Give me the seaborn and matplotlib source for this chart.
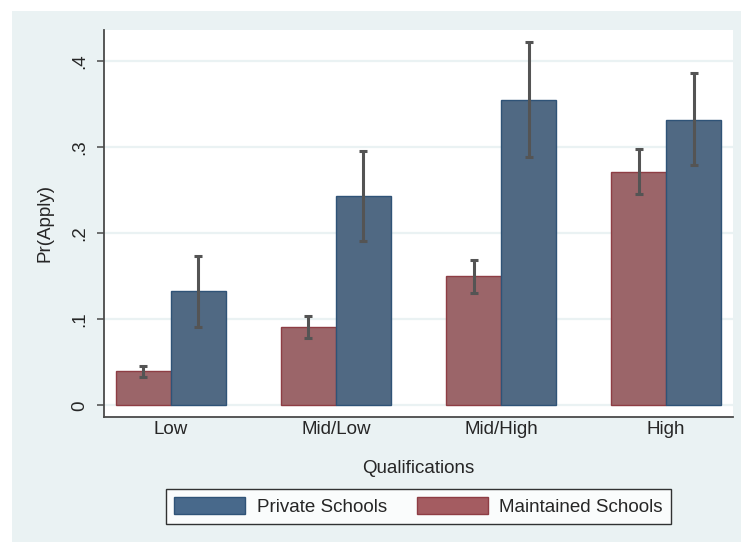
import matplotlib
matplotlib.use("Agg")
import matplotlib.pyplot as plt
from matplotlib.patches import Rectangle, Patch
import seaborn as sns
import pandas as pd
import numpy as np

# Predicted probability of applying, by qualification band and school type
qualifications = ["Low", "Mid/Low", "Mid/High", "High"]
school_types = ["Maintained Schools", "Private Schools"]

maintained_mean = [0.040, 0.091, 0.150, 0.271]
maintained_lo = [0.033, 0.078, 0.130, 0.245]
maintained_hi = [0.046, 0.104, 0.169, 0.298]

private_mean = [0.133, 0.243, 0.355, 0.332]
private_lo = [0.091, 0.191, 0.288, 0.279]
private_hi = [0.173, 0.296, 0.422, 0.386]

y_ticks = [0, 0.1, 0.2, 0.3, 0.4]
y_tick_labels = ["0", ".1", ".2", ".3", ".4"]

colors = {"Maintained Schools": "#a45c61", "Private Schools": "#48698b"}
edges = {"Maintained Schools": "#8e3d44", "Private Schools": "#2f5377"}
panel_bg = "#eaf2f3"
FS = 13.5

df = pd.DataFrame({
    "Qualifications": qualifications * 2,
    "School": [school_types[0]] * 4 + [school_types[1]] * 4,
    "Pr": maintained_mean + private_mean,
})
ci = {
    "Maintained Schools": (maintained_lo, maintained_hi),
    "Private Schools": (private_lo, private_hi),
}

sns.set_style("white")
plt.rcParams["font.family"] = ["Liberation Sans", "DejaVu Sans"]

W, H = 741, 542
fig = plt.figure(figsize=(W / 100, H / 100), dpi=100, facecolor="white")

# light graph-region panel behind the plot
fig.patches.append(Rectangle((12 / W, 0), 1 - 12 / W, 1 - 11 / H,
                             transform=fig.transFigure, facecolor=panel_bg,
                             edgecolor="none", zorder=-10))

ax = fig.add_axes([104 / W, 1 - 417 / H, (733 - 104) / W, (417 - 30) / H])
ax.set_facecolor("white")

sns.barplot(data=df, x="Qualifications", y="Pr", hue="School",
            order=qualifications, hue_order=school_types,
            palette=colors, width=2 / 3, gap=0, errorbar=None,
            legend=False, ax=ax, zorder=3)

for container, school in zip(ax.containers, school_types):
    lo, hi = ci[school]
    for bar, l, h in zip(container, lo, hi):
        bar.set_edgecolor(edges[school])
        bar.set_linewidth(1.0)
        bar.set_alpha(1)
        xc = bar.get_x() + bar.get_width() / 2
        ax.errorbar([xc], [(l + h) / 2], yerr=[[(h - l) / 2]], fmt="none",
                    ecolor="#545454", elinewidth=2.2, capsize=3, capthick=2.2,
                    zorder=5)

ax.set_xlim(-0.406, 3.406)
ax.set_ylim(-0.0136, 0.436)
ax.set_yticks(y_ticks)
ax.set_yticklabels(y_tick_labels, rotation=90, va="center")
ax.yaxis.grid(True, color=panel_bg, linewidth=1.6, zorder=0)
ax.set_axisbelow(True)

for side in ["top", "right"]:
    ax.spines[side].set_visible(False)
for side in ["left", "bottom"]:
    ax.spines[side].set_color("#4a4a4a")
    ax.spines[side].set_linewidth(1.3)

ax.tick_params(axis="y", length=5, width=1.1, color="#4a4a4a", pad=6,
               labelsize=FS, left=True)
ax.tick_params(axis="x", length=0, pad=3, labelsize=FS)
ax.set_xlabel("Qualifications", fontsize=FS, labelpad=16)
ax.set_ylabel("Pr(Apply)", fontsize=FS, labelpad=13)

handles = [Patch(facecolor=colors["Private Schools"], edgecolor=edges["Private Schools"]),
           Patch(facecolor=colors["Maintained Schools"], edgecolor=edges["Maintained Schools"])]
leg = fig.legend(handles, ["Private Schools", "Maintained Schools"], ncol=2,
                 loc="center", bbox_to_anchor=((165 + 672) / 2 / W, 1 - 506.5 / H),
                 fontsize=FS, frameon=True, fancybox=False,
                 handlelength=3.8, handleheight=1.0, handletextpad=0.6,
                 columnspacing=1.6, borderpad=0.45, borderaxespad=0)
leg.get_frame().set_edgecolor("black")
leg.get_frame().set_linewidth(1.0)
leg.get_frame().set_facecolor("white")

fig.savefig("out.png", dpi=100, facecolor="white")
